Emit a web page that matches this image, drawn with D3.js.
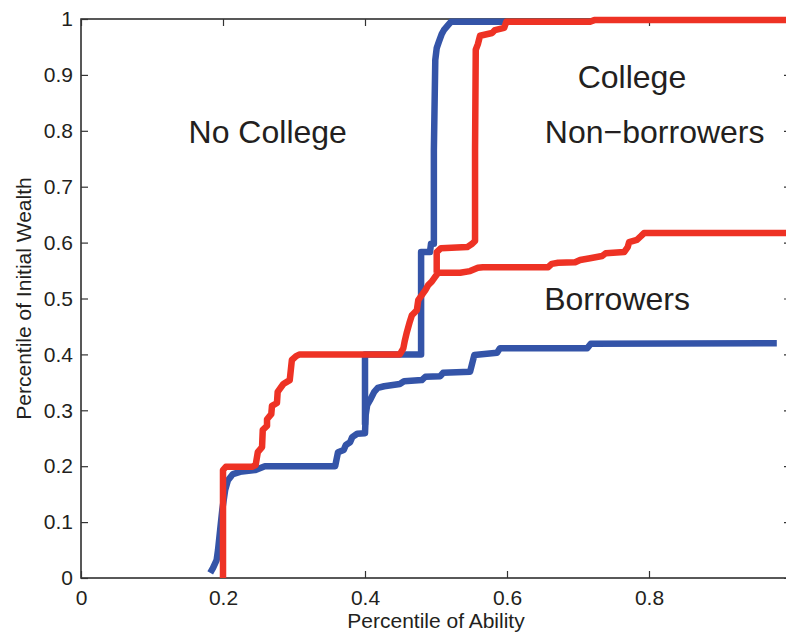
<!DOCTYPE html>
<html>
<head>
<meta charset="utf-8">
<script src="https://cdn.jsdelivr.net/npm/d3@7"></script>
<style>
  body { margin: 0; background: #fff; }
  svg text { font-family: "Liberation Sans", Arial, sans-serif; fill: #231f20; }
  .axis line { stroke: #333; stroke-width: 1.2; }
  .axis path { display: none; }
</style>
</head>
<body>
<div id="container"></div>
<script>
const xTicks = [0, 0.2, 0.4, 0.6, 0.8, 1];
const yTicks = [0, 0.1, 0.2, 0.3, 0.4, 0.5, 0.6, 0.7, 0.8, 0.9, 1];
// the "1" at x = 1 falls just outside the picture
const xTickLabels = ["0", "0.2", "0.4", "0.6", "0.8", ""];
const yTickLabels = ["0", "0.1", "0.2", "0.3", "0.4", "0.5", "0.6", "0.7", "0.8", "0.9", "1"];

// blue: lower boundary
const blueLowerX = [0.182, 0.186, 0.191, 0.193, 0.196, 0.199, 0.203, 0.207, 0.214, 0.224, 0.245, 0.259, 0.358, 0.362, 0.370, 0.373, 0.379, 0.382, 0.389, 0.400, 0.401, 0.403, 0.407, 0.413, 0.418, 0.427, 0.449, 0.455, 0.480, 0.485, 0.506, 0.510, 0.548, 0.554, 0.586, 0.590, 0.713, 0.718, 0.980];
const blueLowerY = [0.009, 0.018, 0.032, 0.050, 0.086, 0.122, 0.157, 0.175, 0.186, 0.190, 0.193, 0.200, 0.200, 0.225, 0.229, 0.238, 0.243, 0.252, 0.258, 0.259, 0.292, 0.309, 0.318, 0.333, 0.340, 0.343, 0.347, 0.352, 0.354, 0.360, 0.361, 0.367, 0.369, 0.399, 0.403, 0.411, 0.411, 0.419, 0.420];

// blue: upper boundary
const blueUpperX = [0.400, 0.400, 0.479, 0.479, 0.4915, 0.493, 0.497, 0.497, 0.499, 0.501, 0.504, 0.508, 0.511, 0.517, 0.521, 0.597];
const blueUpperY = [0.274, 0.400, 0.400, 0.583, 0.583, 0.598, 0.598, 0.766, 0.927, 0.948, 0.959, 0.973, 0.980, 0.989, 0.995, 0.995];

// red: lower boundary
const redLowerX = [0.200, 0.200, 0.204, 0.241, 0.246, 0.249, 0.255, 0.256, 0.262, 0.262, 0.268, 0.269, 0.276, 0.277, 0.285, 0.294, 0.297, 0.303, 0.308, 0.449, 0.454, 0.456, 0.459, 0.463, 0.466, 0.473, 0.475, 0.480, 0.485, 0.489, 0.494, 0.499, 0.503, 0.534, 0.548, 0.559, 0.566, 0.658, 0.663, 0.672, 0.696, 0.703, 0.717, 0.734, 0.739, 0.765, 0.770, 0.772, 0.783, 0.789, 0.793, 1.0];
const redLowerY = [0, 0.193, 0.199, 0.199, 0.202, 0.225, 0.234, 0.265, 0.272, 0.284, 0.293, 0.308, 0.313, 0.333, 0.347, 0.354, 0.390, 0.397, 0.400, 0.400, 0.411, 0.424, 0.440, 0.458, 0.470, 0.479, 0.497, 0.506, 0.515, 0.524, 0.530, 0.539, 0.546, 0.546, 0.549, 0.555, 0.556, 0.556, 0.562, 0.564, 0.565, 0.569, 0.572, 0.576, 0.581, 0.583, 0.592, 0.601, 0.605, 0.612, 0.617, 0.617];

// red: upper boundary
const redUpperX = [0.501, 0.501, 0.507, 0.544, 0.551, 0.555, 0.555, 0.556, 0.559, 0.562, 0.579, 0.583, 0.596, 0.599, 0.717, 0.723, 1.0];
const redUpperY = [0.546, 0.583, 0.590, 0.592, 0.598, 0.603, 0.766, 0.945, 0.955, 0.970, 0.975, 0.980, 0.984, 0.995, 0.995, 0.998, 0.998];

const labels = [
  { text: "No College", x: 0.263, y: 0.778 },
  { text: "College", x: 0.776, y: 0.877 },
  { text: "Non\u2212borrowers", x: 0.808, y: 0.778 },
  { text: "Borrowers", x: 0.755, y: 0.479 }
];

const margin = { top: 19, left: 81 };
const totalWidth = 786;
const totalHeight = 632;
const width = 710;
const height = 559;

const xScale = d3.scaleLinear().domain([0, 1]).range([0, width]);
const yScale = d3.scaleLinear().domain([0, 1]).range([height, 0]);

const svg = d3.select("#container")
  .append("svg")
  .attr("width", totalWidth)
  .attr("height", totalHeight);

const g = svg.append("g")
  .attr("transform", `translate(${margin.left},${margin.top})`);

// frame
g.append("rect")
  .attr("width", width)
  .attr("height", height)
  .attr("fill", "none")
  .attr("stroke", "#222")
  .attr("stroke-width", 1.5);

// axes with inward ticks
g.append("g")
  .attr("class", "axis")
  .attr("transform", `translate(0,${height})`)
  .call(d3.axisBottom(xScale).tickValues(xTicks).tickFormat((d, i) => xTickLabels[i])
    .tickSizeInner(-7).tickSizeOuter(0).tickPadding(12))
  .selectAll("text").style("font-size", "21px");

g.append("g")
  .attr("class", "axis")
  .call(d3.axisTop(xScale).tickValues(xTicks).tickFormat("").tickSizeInner(-7).tickSizeOuter(0));

g.append("g")
  .attr("class", "axis")
  .call(d3.axisLeft(yScale).tickValues(yTicks).tickFormat((d, i) => yTickLabels[i])
    .tickSizeInner(-7).tickSizeOuter(0).tickPadding(8))
  .selectAll("text").style("font-size", "21px");

g.append("g")
  .attr("class", "axis")
  .attr("transform", `translate(${width},0)`)
  .call(d3.axisRight(yScale).tickValues(yTicks).tickFormat("").tickSizeInner(-7).tickSizeOuter(0));

// curves
const line = d3.line()
  .x(d => xScale(d[0]))
  .y(d => yScale(d[1]));

const curves = [
  { xs: blueLowerX, ys: blueLowerY, color: "#3454a8" },
  { xs: blueUpperX, ys: blueUpperY, color: "#3454a8" },
  { xs: redLowerX, ys: redLowerY, color: "#ee3224" },
  { xs: redUpperX, ys: redUpperY, color: "#ee3224" }
];

g.selectAll("path.curve")
  .data(curves)
  .enter()
  .append("path")
  .attr("class", "curve")
  .attr("d", c => line(d3.zip(c.xs, c.ys)))
  .attr("fill", "none")
  .attr("stroke", c => c.color)
  .attr("stroke-width", 6.5)
  .attr("stroke-linejoin", "round");

// region labels
g.selectAll("text.region")
  .data(labels)
  .enter()
  .append("text")
  .attr("class", "region")
  .attr("x", d => xScale(d.x))
  .attr("y", d => yScale(d.y))
  .attr("text-anchor", "middle")
  .style("font-size", "32px")
  .text(d => d.text);

// axis labels
g.append("text")
  .attr("x", width / 2)
  .attr("y", height + 50)
  .attr("text-anchor", "middle")
  .style("font-size", "21px")
  .text("Percentile of Ability");

g.append("text")
  .attr("transform", "rotate(-90)")
  .attr("x", -height / 2)
  .attr("y", -50)
  .attr("text-anchor", "middle")
  .style("font-size", "21px")
  .text("Percentile of Initial Wealth");
</script>
</body>
</html>
